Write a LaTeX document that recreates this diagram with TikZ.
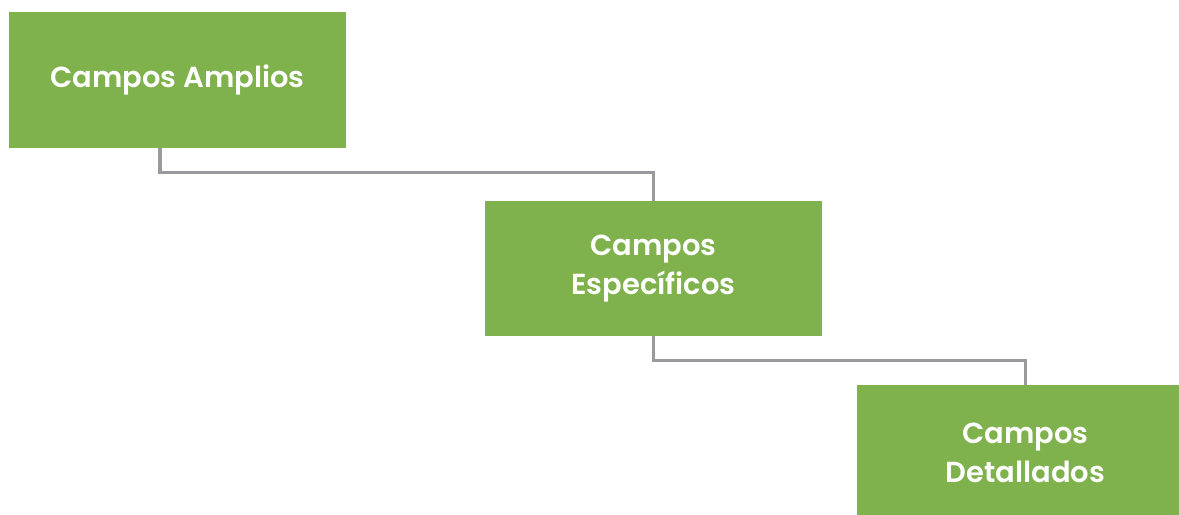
\documentclass[tikz,border=0pt]{standalone}
\usepackage{fontspec}
\setmainfont{Poppins}[BoldFont={Poppins SemiBold}]
\definecolor{verdecampo}{HTML}{7FB24D}
\definecolor{grisenlace}{HTML}{9A9A9E}
\tikzset{
    campo/.style={fill=verdecampo, text=white, align=center, inner sep=0pt,
        minimum width=337*0.025cm, minimum height=135*0.025cm,
        font=\bfseries\fontsize{20.6}{27.6}\selectfont},
    enlace/.style={draw=grisenlace, line width=2.2pt}
}

\begin{document}
\begin{tikzpicture}[x=0.025cm, y=-0.025cm]
    \useasboundingbox (0,0) rectangle (1179,514);

    \node[campo, minimum height=136*0.025cm] (amplios) at (177.5, 80) {Campos Amplios};
    \node[campo] (especificos) at (653.5, 268.5) {Campos\\Específicos};
    \node[campo] (detallados) at (1025.5, 452.5) {Campos\\Detallados};

    \draw[enlace] (amplios.south -| 160,0) -- ++(0,24) -| (especificos.north);
    \draw[enlace] (especificos.south) -- ++(0,24) -| (detallados.north);
\end{tikzpicture}
\end{document}
